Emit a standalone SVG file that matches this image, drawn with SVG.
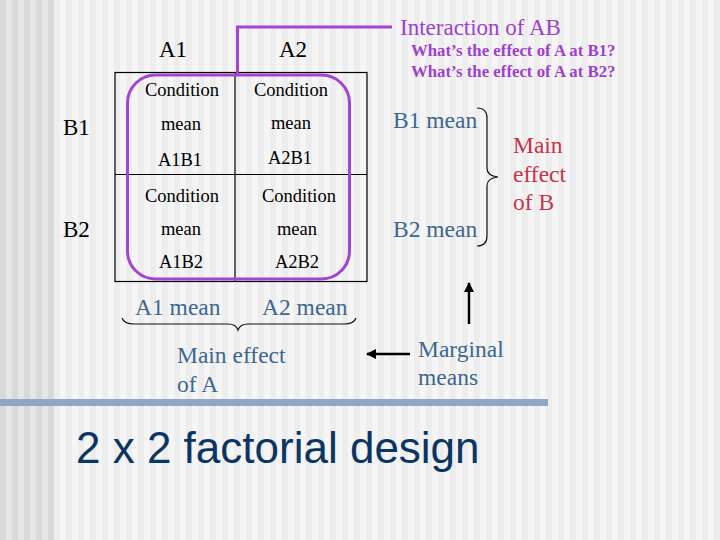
<svg xmlns="http://www.w3.org/2000/svg" width="720" height="540" viewBox="0 0 720 540">
<defs>
<pattern id="stripeMain" width="12" height="10" patternUnits="userSpaceOnUse">
<rect width="12" height="10" fill="#f5f5f5"/>
<rect x="6" width="6" height="10" fill="#ededed"/>
</pattern>
<pattern id="stripeLeft" width="12" height="10" patternUnits="userSpaceOnUse">
<rect width="12" height="10" fill="#e6e6e6"/>
<rect width="6" height="10" fill="#d9d9d9"/>
</pattern>
<marker id="arr" viewBox="0 0 10 10" refX="9" refY="5" markerWidth="4" markerHeight="4" orient="auto" markerUnits="strokeWidth">
<path d="M0,0 L10,5 L0,10 Z" fill="#000"/>
</marker>
<style>
.tm{font-family:"Liberation Serif","Times New Roman",serif;}
.cell{font-family:"Liberation Serif","Times New Roman",serif;font-size:18.5px;fill:#000;text-anchor:middle;}
.hdr{font-family:"Liberation Serif","Times New Roman",serif;font-size:23px;fill:#000;}
.blue{font-family:"Liberation Serif","Times New Roman",serif;font-size:23.5px;fill:#3d6690;}
.red{font-family:"Liberation Serif","Times New Roman",serif;font-size:23.5px;fill:#c8324a;}
.purple{fill:#9f3fcf;font-family:"Liberation Serif","Times New Roman",serif;}
.line{stroke:#000;stroke-width:1.2;fill:none;}
.brace{stroke:#111;stroke-width:1.2;fill:none;}
.arrow{stroke:#000;stroke-width:2.5;fill:none;marker-end:url(#arr);}
</style>
</defs>
<rect width="720" height="540" fill="url(#stripeMain)"/>
<rect width="54" height="540" fill="url(#stripeLeft)"/>
<rect x="0" y="399" width="548" height="7" fill="#8ea7c3"/>

<g id="table">
<rect x="115" y="72.5" width="252" height="209" class="line"/>
<line x1="115" y1="174.5" x2="367" y2="174.5" class="line"/>
<line x1="235" y1="72.5" x2="235" y2="281.5" class="line"/>
</g>

<g id="headers">
<text x="159" y="57" class="hdr">A1</text>
<text x="279" y="57" class="hdr">A2</text>
<text x="63" y="135" class="hdr">B1</text>
<text x="63" y="237" class="hdr">B2</text>
</g>

<g id="cell-A1B1">
<text x="182" y="96" class="cell">Condition</text>
<text x="181" y="130" class="cell">mean</text>
<text x="180" y="166" class="cell">A1B1</text>
</g>
<g id="cell-A2B1">
<text x="291" y="96" class="cell">Condition</text>
<text x="291" y="129" class="cell">mean</text>
<text x="290" y="164" class="cell">A2B1</text>
</g>
<g id="cell-A1B2">
<text x="182" y="202" class="cell">Condition</text>
<text x="181" y="235" class="cell">mean</text>
<text x="181" y="268" class="cell">A1B2</text>
</g>
<g id="cell-A2B2">
<text x="299" y="202" class="cell">Condition</text>
<text x="297" y="235" class="cell">mean</text>
<text x="297" y="268" class="cell">A2B2</text>
</g>

<g id="interaction">
<rect x="127.5" y="75" width="222" height="204" rx="28" ry="28" fill="none" stroke="#a445d2" stroke-width="3"/>
<text x="400" y="35" class="purple" font-size="23">Interaction of AB</text>
<text x="411" y="56" class="purple" font-size="16.8" font-weight="bold">What’s the effect of A at B1?</text>
<text x="411" y="77" class="purple" font-size="16.8" font-weight="bold">What’s the effect of A at B2?</text>
</g>

<g id="row-means">
<text x="393" y="128" class="blue">B1 mean</text>
<text x="393" y="237" class="blue">B2 mean</text>
</g>
<g id="main-effect-B">
<text x="513" y="153" class="red">Main</text>
<text x="513" y="182" class="red">effect</text>
<text x="513" y="210" class="red">of B</text>
</g>
<g id="col-means">
<text x="135" y="315" class="blue">A1 mean</text>
<text x="262" y="315" class="blue">A2 mean</text>
</g>
<g id="main-effect-A">
<text x="177" y="363" class="blue">Main effect</text>
<text x="177" y="392" class="blue">of A</text>
</g>
<g id="marginal-means">
<text x="418" y="357" class="blue">Marginal</text>
<text x="418" y="385" class="blue">means</text>
</g>
<g id="title">
<text x="76" y="463" font-family="'Liberation Sans',Arial,sans-serif" font-size="44" fill="#0b3663">2 x 2 factorial design</text>
</g>

<g id="connectors">
<polyline points="237.5,75 237.5,27 392,27" fill="none" stroke="#a445d2" stroke-width="3"/>
<path class="brace" d="M122,318 Q124,324 134,324 L228,324 Q236,324 238,330 Q240,324 248,324 L344,324 Q354,324 356,318"/>
<path class="brace" d="M477,108 Q487,108 487,118 L487,168 Q487,176 498,177 Q487,178 487,186 L487,236 Q487,246 477,246"/>
<line x1="410" y1="354" x2="367" y2="354" class="arrow"/>
<line x1="469" y1="324" x2="469" y2="283" class="arrow"/>
</g>
</svg>
